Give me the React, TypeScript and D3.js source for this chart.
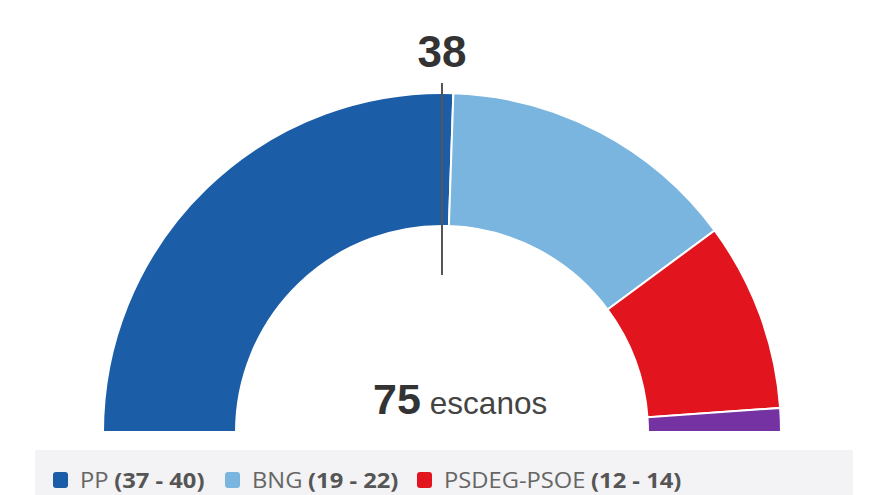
import React from "react";
import * as d3 from "d3";

const parties = ["PP", "BNG", "PSDEG-PSOE", "Sumar"];
const seats = [38.3, 21.5, 13.5, 1.7];
const ranges = ["(37 - 40)", "(19 - 22)", "(12 - 14)", ""];
const colors = ["#1b5da7", "#79b5df", "#e2141d", "#7432a3"];
const totalSeats = 75;
const majority = 38;
const legendCount = 3;

export default function App() {
  const W = 880;
  const H = 495;
  const cx = 442;
  const cy = 432;
  const outerR = 339;
  const innerR = 206;

  const pie = d3
    .pie<number>()
    .sort(null)
    .value((d) => d)
    .startAngle(-Math.PI / 2)
    .endAngle(Math.PI / 2);
  const arcs = pie(seats);
  const arcGen = d3.arc<d3.PieArcDatum<number>>().innerRadius(innerR).outerRadius(outerR);

  const angle = d3.scaleLinear().domain([0, totalSeats]).range([-Math.PI / 2, Math.PI / 2]);
  const mAng = angle(totalSeats / 2) as number;
  const r1 = outerR + 10;
  const r2 = innerR - 49;

  const legendX = [53, 225, 417];

  return (
    <svg
      width={W}
      height={H}
      style={{ position: "absolute", left: 0, top: 0, background: "#fff" }}
    >
      <g transform={`translate(${cx},${cy})`}>
        {arcs.map((d, i) => (
          <path key={i} d={arcGen(d) || ""} fill={colors[i]} stroke="#fff" strokeWidth={2} />
        ))}
        <line
          x1={r1 * Math.sin(mAng)}
          y1={-r1 * Math.cos(mAng)}
          x2={r2 * Math.sin(mAng)}
          y2={-r2 * Math.cos(mAng)}
          stroke="#555"
          strokeWidth={2}
        />
      </g>
      <text
        x={cx}
        y={67}
        textAnchor="middle"
        fontFamily="Liberation Sans, Arial, sans-serif"
        fontWeight="bold"
        fontSize={44}
        fill="#333"
      >
        {majority}
      </text>
      <text
        x={373}
        y={414}
        fontFamily="Liberation Sans, Arial, sans-serif"
        fill="#333"
      >
        <tspan fontWeight="bold" fontSize={43}>{totalSeats}</tspan>
        <tspan fontSize={31.5} fill="#444" dx={9}>escanos</tspan>
      </text>
      <rect x={35} y={450} width={818} height={50} fill="#f3f2f4" />
      {parties.slice(0, legendCount).map((p, i) => (
        <g key={p}>
          <rect
            x={legendX[i]}
            y={472}
            width={15}
            height={16}
            rx={3}
            fill={colors[i]}
          />
          <text
            transform={`translate(${legendX[i] + 27},488) scale(1.13,1)`}
            fontFamily="Open Sans, sans-serif"
            fontSize={21}
            fill="#666"
          >
            {p}
            <tspan fontWeight="bold" fill="#555" dx={5}>{ranges[i]}</tspan>
          </text>
        </g>
      ))}
    </svg>
  );
}
